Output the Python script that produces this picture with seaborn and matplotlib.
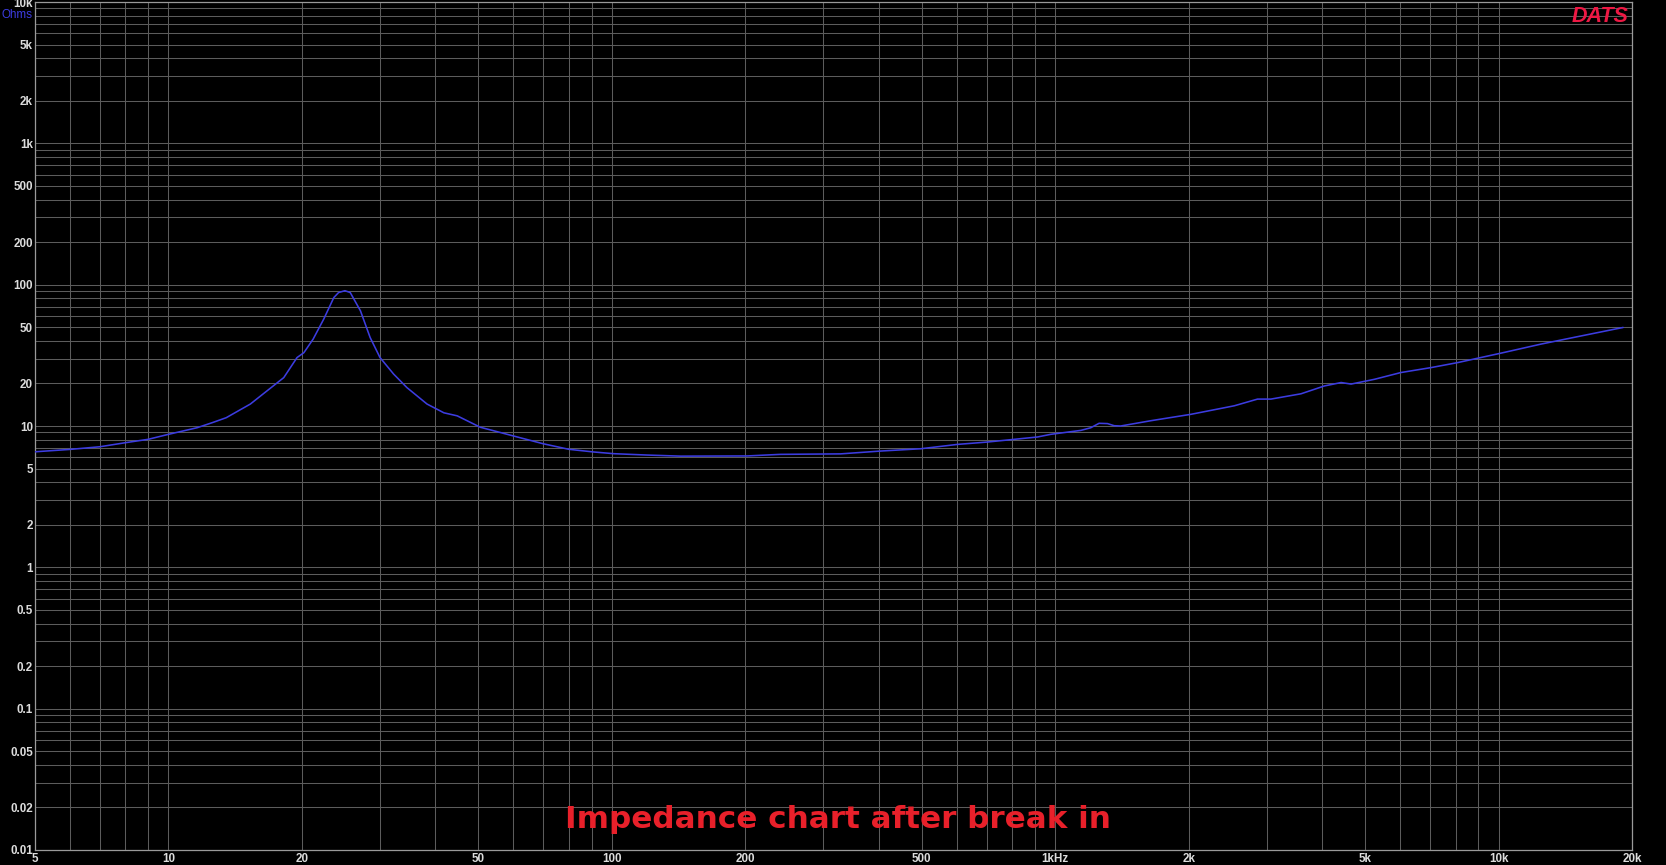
import numpy as np
import pandas as pd
import matplotlib
matplotlib.use("Agg")
import matplotlib.pyplot as plt
import seaborn as sns

# impedance curve (Hz, Ohms)
freq_hz = [5, 6, 7, 8, 9, 10, 11.6, 12.6, 13.5, 15.3, 18.2, 19.5, 20.2, 21.2,
           22.4, 23.6, 24.2, 25.0, 25.7, 27.1, 28.5, 30.0, 32.2, 34.5, 38.3,
           41.8, 44.8, 50.5, 56, 60, 70, 80, 91, 101, 120, 143, 202, 240, 328,
           404, 497, 602, 703, 912, 977, 1143, 1203, 1256, 1312, 1358, 1405,
           1644, 2025, 2535, 2860, 3066, 3585, 4047, 4415, 4650, 5250, 6025,
           7045, 8090, 10140, 12480, 15370, 19100]
impedance = [6.57, 6.83, 7.13, 7.62, 8.05, 8.73, 9.72, 10.6, 11.45, 14.3, 22.0,
             30.5, 33.0, 41.2, 57.1, 81.0, 88.0, 90.6, 88.0, 65.4, 42.3, 30.5,
             23.3, 18.7, 14.3, 12.4, 11.8, 9.8, 9.0, 8.5, 7.49, 6.84, 6.55, 6.37,
             6.23, 6.12, 6.14, 6.3, 6.35, 6.65, 6.9, 7.41, 7.7, 8.36, 8.73, 9.31,
             9.72, 10.45, 10.4, 10.05, 10.0, 10.9, 12.1, 13.9, 15.5, 15.5, 16.9,
             19.2, 20.3, 19.8, 21.4, 23.9, 25.9, 28.1, 32.8, 38.0, 43.4, 49.8]

x_tick_vals = [5, 10, 20, 50, 100, 200, 500, 1000, 2000, 5000, 10000, 20000]
x_tick_labels = ["5", "10", "20", "50", "100", "200", "500", "1kHz", "2k", "5k",
                 "10k", "20k"]
y_tick_vals = [0.01, 0.02, 0.05, 0.1, 0.2, 0.5, 1, 2, 5, 10, 20, 50, 100, 200,
               500, 1000, 2000, 5000, 10000]
y_tick_labels = ["0.01", "0.02", "0.05", "0.1", "0.2", "0.5", "1", "2", "5", "10",
                 "20", "50", "100", "200", "500", "1k", "2k", "5k", "10k"]

df = pd.DataFrame({"freq": freq_hz, "ohms": impedance})

sns.set_theme(style="dark")
plt.rcParams["font.family"] = ["Liberation Sans", "DejaVu Sans"]

fig = plt.figure(figsize=(16.66, 8.65), dpi=100, facecolor="black")
ax = fig.add_axes([35 / 1666, 15 / 865, (1632 - 35) / 1666, (850 - 2) / 865])
ax.set_facecolor("black")

ax.set_xscale("log")
ax.set_yscale("log")
ax.set_xlim(5, 20000)
ax.set_ylim(0.01, 10000)

# grid at every integer multiple of each decade
x_grid = [m * 10.0 ** d for d in range(0, 5) for m in range(1, 10)
          if 5 <= m * 10.0 ** d <= 20000]
y_grid = [m * 10.0 ** d for d in range(-2, 5) for m in range(1, 10)
          if 0.01 <= m * 10.0 ** d <= 10000]
for gx in x_grid:
    ax.axvline(gx, color="#5c5c5c", lw=0.75, zorder=1)
for gy in y_grid:
    ax.axhline(gy, color="#5c5c5c", lw=0.75, zorder=1)

sns.lineplot(data=df, x="freq", y="ohms", ax=ax, color="#3c3ce0", lw=1.15,
             estimator=None, sort=False, zorder=3)

ax.set_xticks(x_tick_vals)
ax.set_xticklabels(x_tick_labels)
ax.set_yticks(y_tick_vals)
ax.set_yticklabels(y_tick_labels)
ax.xaxis.set_minor_locator(matplotlib.ticker.NullLocator())
ax.yaxis.set_minor_locator(matplotlib.ticker.NullLocator())
ax.tick_params(axis="x", length=0, pad=2.5, labelsize=8.4, labelcolor="#dcdcdc")
ax.tick_params(axis="y", length=0, pad=1.5, labelsize=8.4, labelcolor="#dcdcdc")
for lab in ax.get_xticklabels() + ax.get_yticklabels():
    lab.set_fontweight("bold")
ax.set_xlabel("")
ax.set_ylabel("")
ax.grid(False)
for sp in ax.spines.values():
    sp.set_color("#9a9a9a")
    sp.set_linewidth(0.9)

fig.text(33 / 1666, 1 - 15.5 / 865, "Ohms", color="#3c3ce0", fontsize=8.4,
         ha="right", va="center")
fig.text(1629 / 1666, 1 - 22 / 865, "DATS", color="#ee1844", fontsize=15.5,
         fontweight="bold", fontstyle="italic", ha="right", va="baseline")
fig.text(838 / 1666, 1 - 827.5 / 865, "Impedance chart after break in",
         color="#e8202a", fontsize=22.3, fontweight="bold",
         family=["DejaVu Sans"], ha="center", va="baseline")

fig.savefig("out.png", dpi=100, facecolor="black")
